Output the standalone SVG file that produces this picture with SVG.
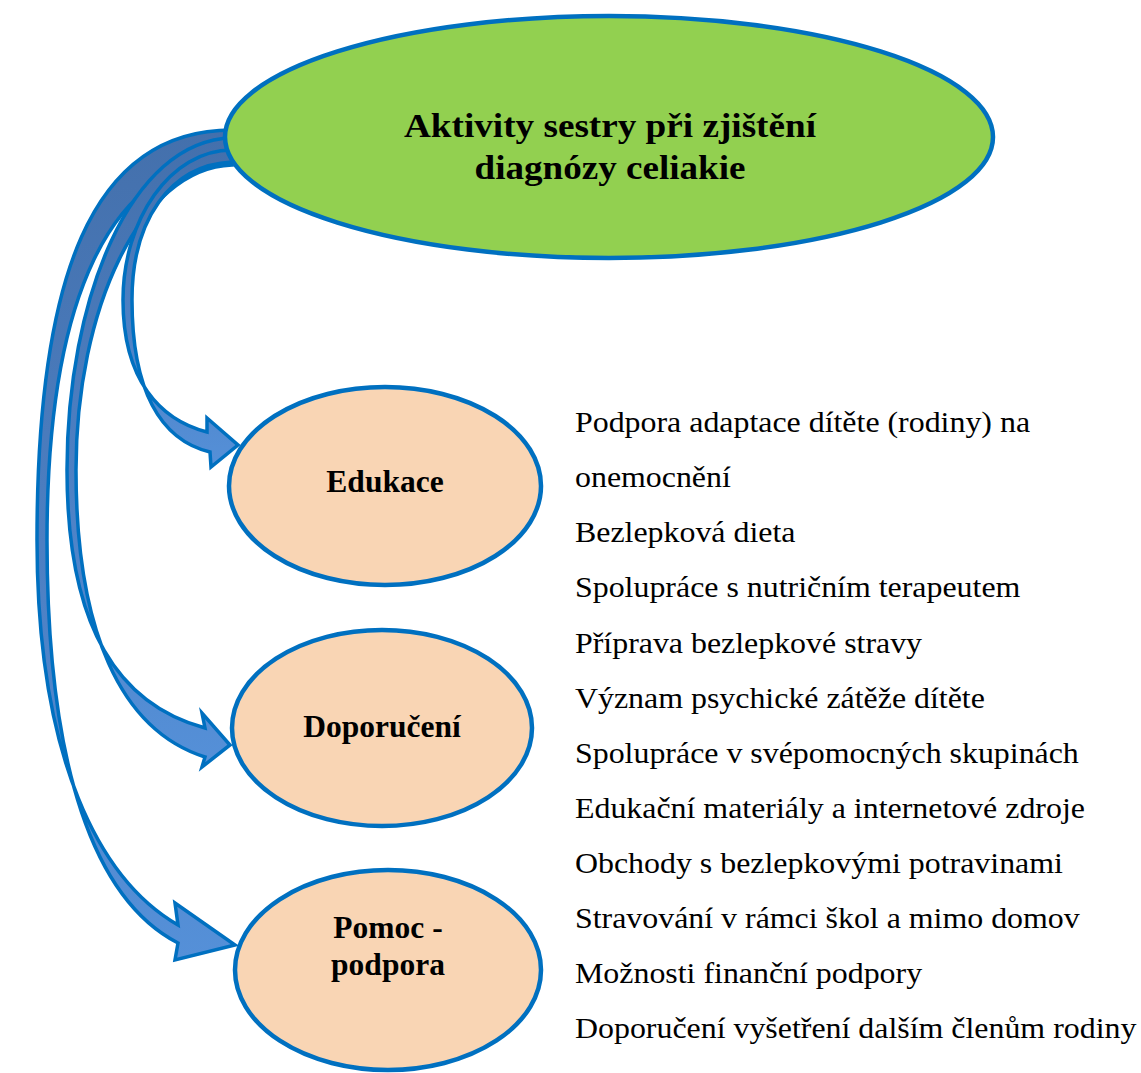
<svg xmlns="http://www.w3.org/2000/svg" width="1141" height="1073" viewBox="0 0 1141 1073">
<defs>
<linearGradient id="ag" x1="0" y1="0" x2="0" y2="1">
<stop offset="0" stop-color="#4470AC"/>
<stop offset="0.5" stop-color="#4C7FC2"/>
<stop offset="1" stop-color="#5590D8"/>
</linearGradient>
<style>
.arrow{fill:url(#ag);stroke:#0070C0;stroke-width:3.5;stroke-linejoin:miter}
.main{fill:#92D050;stroke:#0070C0;stroke-width:4.5}
.sub{fill:#F9D5B4;stroke:#0070C0;stroke-width:4.5}
.t{font-family:"Liberation Serif","Times New Roman",serif;fill:#000}
.b{font-weight:bold;text-anchor:middle}
.title{font-size:34px}
.lbl{font-size:31.5px}
.item{font-size:29px}
</style>
</defs>
<rect width="1141" height="1073" fill="#fff"/>
<g id="connectors">
<path class="arrow" d="M232,130 C90,130 37,280 37,540 C37,760 100,880 178,925 L175,903 L235,945 L175,960 L178,943 C95,900 47,770 47,540 C47,300 110,160 232,160 Z"/>
<path class="arrow" d="M232,138 C130,140 67,300 67,470 C67,630 120,705 205,728 L202,713 L230,745 L202,767 L205,757 C120,730 76,630 76,470 C76,310 140,168 232,165 Z"/>
<path class="arrow" d="M232,150 C170,150 123,220 123,300 C123,380 160,420 207,432 L207,418 L238,445 L211,467 L210,452 C160,440 132,390 132,300 C132,220 170,165 232,162 Z"/>
</g>
<g id="node-main">
<ellipse class="main" cx="609" cy="137" rx="384" ry="121"/>
<text class="t b title" x="610" y="137" textLength="412" lengthAdjust="spacingAndGlyphs">Aktivity sestry při zjištění</text>
<text class="t b title" x="610" y="179" textLength="271" lengthAdjust="spacingAndGlyphs">diagnózy celiakie</text>
</g>
<g id="node-edukace">
<ellipse class="sub" cx="385" cy="486" rx="156" ry="99"/>
<text class="t b lbl" x="385" y="492">Edukace</text>
</g>
<g id="node-doporuceni">
<ellipse class="sub" cx="382" cy="728" rx="150" ry="98"/>
<text class="t b lbl" x="382" y="737">Doporučení</text>
</g>
<g id="node-pomoc">
<ellipse class="sub" cx="388" cy="970" rx="153" ry="100"/>
<text class="t b lbl" x="388" y="938">Pomoc -</text>
<text class="t b lbl" x="388" y="975">podpora</text>
</g>
<g id="list" transform="translate(575,0) scale(1.1,1)">
<text class="t item" x="0" y="432">Podpora adaptace dítěte (rodiny) na</text>
<text class="t item" x="0" y="487.1">onemocnění</text>
<text class="t item" x="0" y="542.3">Bezlepková dieta</text>
<text class="t item" x="0" y="597.4">Spolupráce s nutričním terapeutem</text>
<text class="t item" x="0" y="652.6">Příprava bezlepkové stravy</text>
<text class="t item" x="0" y="707.7">Význam psychické zátěže dítěte</text>
<text class="t item" x="0" y="762.8">Spolupráce v svépomocných skupinách</text>
<text class="t item" x="0" y="818">Edukační materiály a internetové zdroje</text>
<text class="t item" x="0" y="873.1">Obchody s bezlepkovými potravinami</text>
<text class="t item" x="0" y="928.3">Stravování v rámci škol a mimo domov</text>
<text class="t item" x="0" y="983.4">Možnosti finanční podpory</text>
<text class="t item" x="0" y="1038.5">Doporučení vyšetření dalším členům rodiny</text>
</g>
</svg>
